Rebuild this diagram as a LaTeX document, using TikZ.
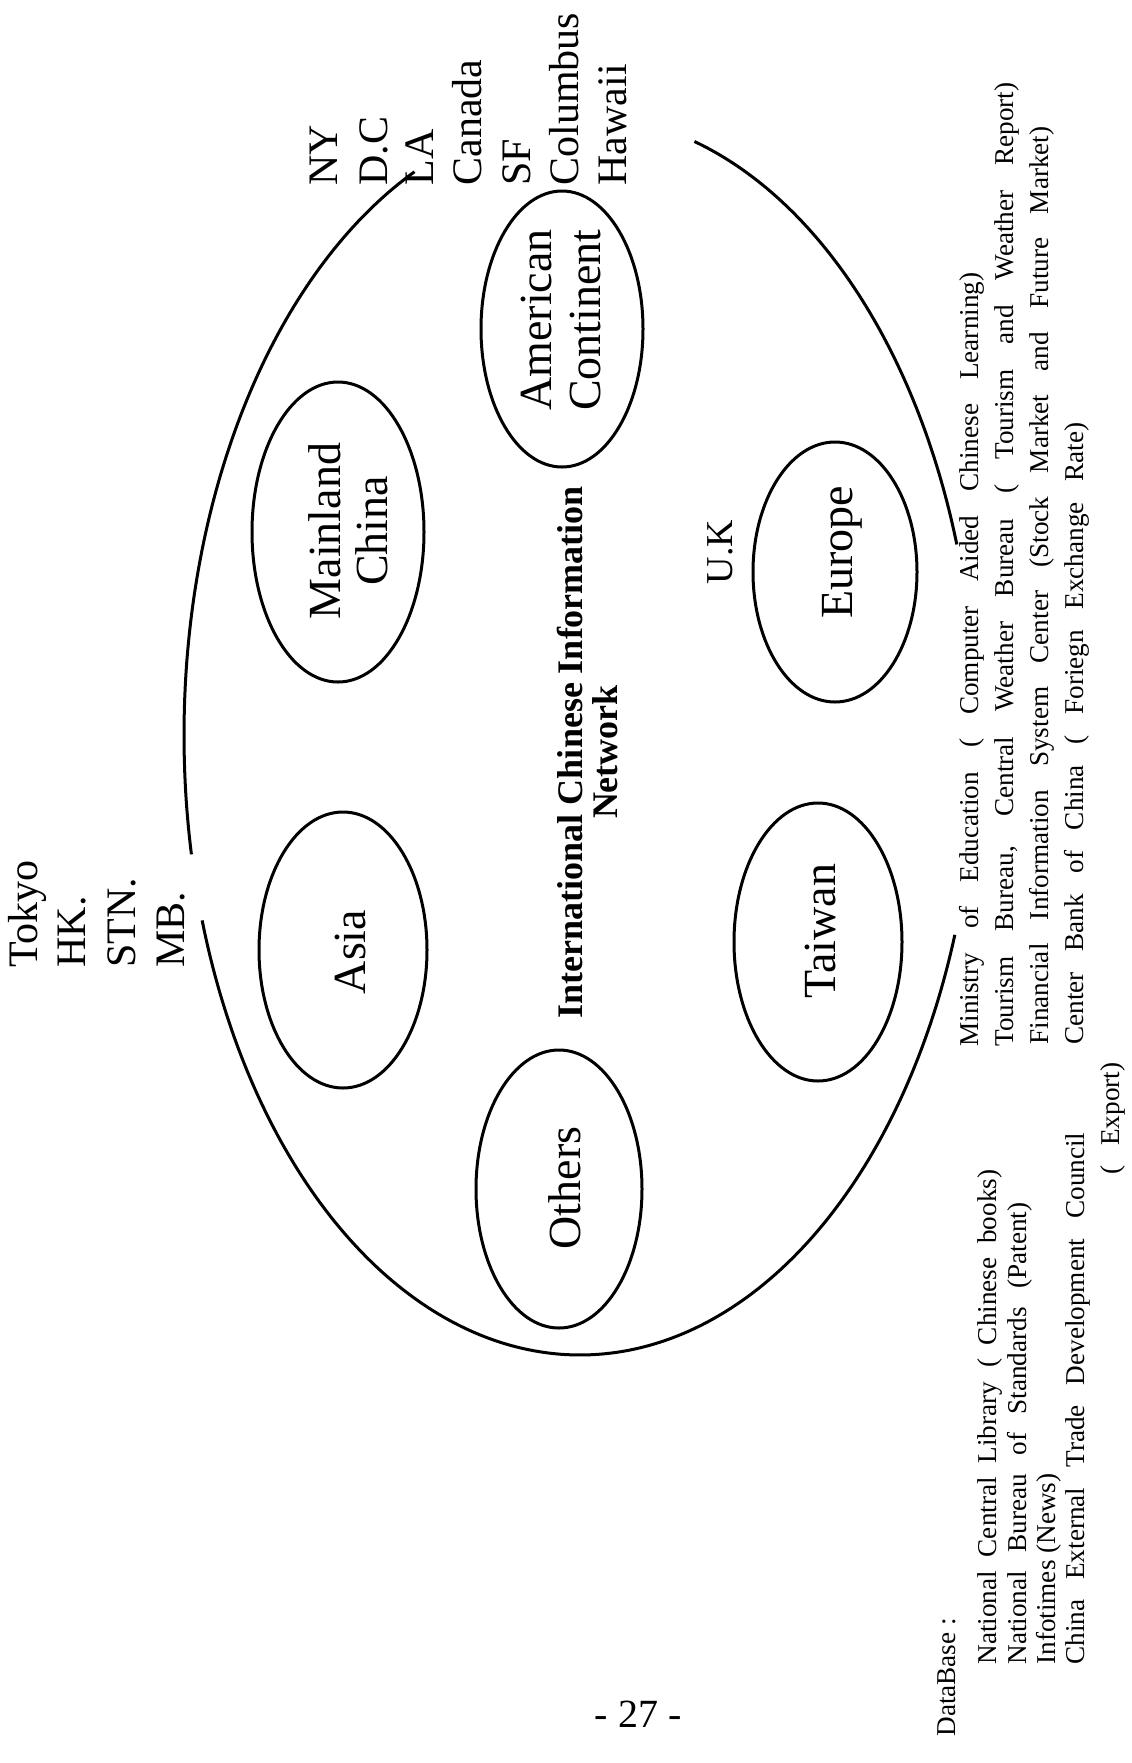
\documentclass[tikz,border=0pt]{standalone}
\usepackage{fontspec}
\setmainfont{Liberation Serif}
\usetikzlibrary{shapes.geometric}

\tikzset{
  outline/.style={line width=1.5pt},
  region/.style={draw, ellipse, line width=1.5pt, inner sep=0pt, rotate=90},
  place/.style={rotate=90, anchor=base west, inner sep=0pt, font=\fontsize{21}{25}\selectfont},
  area/.style={rotate=90, anchor=base, inner sep=0pt, font=\fontsize{23}{25}\selectfont},
  heading/.style={rotate=90, anchor=base, inner sep=0pt, font=\bfseries\fontsize{18}{20}\selectfont},
  dbline/.style={rotate=90, anchor=base west, inner sep=0pt, font=\fontsize{13.6}{17}\selectfont},
}

\begin{document}
\begin{tikzpicture}[x=0.5pt, y=-0.5pt]
\fill[white] (0,0) rectangle (1131,1763);
\useasboundingbox (0,0) rectangle (1131,1763);

% outer boundary: one ellipse broken into three arcs
\def\ocx{580}\def\ocy{735}\def\oa{396}\def\ob{620}
\draw[outline] plot[domain=245.3:168.9, samples=90] ({\ocx+\oa*cos(\x)},{\ocy+\ob*sin(\x)});
\draw[outline] plot[domain=162.6:18.8, samples=160] ({\ocx+\oa*cos(\x)},{\ocy+\ob*sin(\x)});
\draw[outline] plot[domain=-73.2:-17.9, samples=80] ({\ocx+\oa*cos(\x)},{\ocy+\ob*sin(\x)});

% regional ellipses
\node[region, minimum width=150pt, minimum height=86pt] (mainlandE) at (338,532) {};
\node[region, minimum width=138pt, minimum height=84pt] (asiaE) at (343,950) {};
\node[region, minimum width=138pt, minimum height=81pt] (americaE) at (562,329) {};
\node[region, minimum width=139pt, minimum height=83pt] (othersE) at (559,1189) {};
\node[region, minimum width=130pt, minimum height=82pt] (europeE) at (835,572) {};
\node[region, minimum width=139pt, minimum height=84pt] (taiwanE) at (818,942) {};

% region names
\node[area] (mainland1) at (340,531) {Mainland};
\node[area] (mainland2) at (387,531) {China};
\node[area] (asia) at (365,952) {Asia};
\node[area] (america1) at (551,320) {American};
\node[area] (america2) at (600,320) {Continent};
\node[area] (others) at (580,1188) {Others};
\node[area] (europe) at (852,552) {Europe};
\node[area] (taiwan) at (835,931) {Taiwan};

% network title
\node[heading] (title1) at (582,752) {International Chinese Information};
\node[heading] (title2) at (617,752) {Network};

% city lists
\node[place] (tokyo) at (37,968) {Tokyo};
\node[place] (hk) at (85,968) {HK.};
\node[place] (stn) at (135,968) {STN.};
\node[place] (mb) at (184,968) {MB.};

\node[place] (ny) at (337,186) {NY};
\node[place] (dc) at (387,186) {D.C};
\node[place] (la) at (433,186) {LA};
\node[place] (canada) at (481,186) {Canada};
\node[place] (sf) at (530,186) {SF};
\node[place] (columbus) at (578,186) {Columbus};
\node[place] (hawaii) at (626,186) {Hawaii};

\node[place, anchor=base, font=\fontsize{19}{22}\selectfont] (uk) at (732,552) {U.K};

% databases
\node[dbline] (db) at (955,1737) {DataBase :};
\node[dbline] (db1) at (996,1665) {\makebox[247.5pt][s]{National Central Library ( Chinese books)}};
\node[dbline] (db2) at (1026,1665) {\makebox[231pt][s]{National Bureau of Standards (Patent)}};
\node[dbline] (db3) at (1055,1665) {Infotimes (News)};
\node[dbline] (db4) at (1084,1665) {\makebox[266pt][s]{China External Trade Development Council}};
\node[dbline] (db5) at (1119,1175) {\makebox[56pt][s]{( Export)}};

\node[dbline] (db6) at (978,1047) {\makebox[387pt][s]{Ministry of Education ( Computer Aided Chinese Learning)}};
\node[dbline] (db7) at (1013,1047) {\makebox[482pt][s]{Tourism Bureau, Central Weather Bureau ( Tourism and Weather Report)}};
\node[dbline] (db8) at (1048,1045) {\makebox[459pt][s]{Financial Information System Center (Stock Market and Future Market)}};
\node[dbline] (db9) at (1083,1045) {\makebox[311pt][s]{Center Bank of China ( Foriegn Exchange Rate)}};

% page number
\node[inner sep=0pt, font=\fontsize{20}{24}\selectfont] (pageno) at (638,1714) {- 27 -};
\end{tikzpicture}
\end{document}
